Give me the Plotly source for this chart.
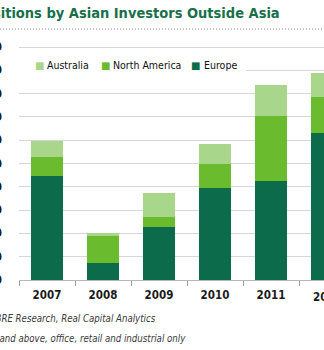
import plotly.graph_objects as go

# ---- data ----
years = ["2007", "2008", "2009", "2010", "2011", "2012"]
europe = [44.7, 7.4, 22.9, 39.3, 42.5, 63.2]
north_america = [7.9, 11.9, 4.3, 10.4, 27.9, 15.5]
australia = [7.1, 0.8, 10.3, 8.5, 13.3, 10.0]
y_ticks = [0, 10, 20, 30, 40, 50, 60, 70, 80, 90, 100]
series_names = ["Australia", "North America", "Europe"]

title_text = "Acquisitions by Asian Investors Outside Asia"
source_text = "Source: CBRE Research, Real Capital Analytics"
note_text = "Note: Deals of US$10 million and above, office, retail and industrial only"

# ---- layout geometry ----
W, H = 324, 350
L, R, T, B = 19, 0, 45, 70
PW, PH = W - L - R, H - T - B


def px(x):
    return (x - L) / PW


def py(y):
    return (H - B - y) / PH


COL_EU = "#0b6b4b"
COL_NA = "#6bbb2f"
COL_AU = "#a8d78c"
COND = "DejaVu Sans Condensed, DejaVu Sans, sans-serif"
TICKFONT = dict(family=COND, size=11.5, color="#1a1a1a", weight=700)

fig = go.Figure()
for name, vals, col in [("Europe", europe, COL_EU),
                        ("North America", north_america, COL_NA),
                        ("Australia", australia, COL_AU)]:
    fig.add_trace(go.Bar(x=years, y=vals, name=name, marker_color=col,
                         marker_line_width=0, showlegend=False,
                         hoverinfo="skip"))

fig.update_layout(
    width=W, height=H,
    margin=dict(l=L, r=R, t=T, b=B, pad=0, autoexpand=False),
    barmode="stack", bargap=0.446,
    plot_bgcolor="white", paper_bgcolor="white",
    showlegend=False,
)
fig.update_xaxes(type="category", range=[-0.5, -0.5 + PW / 56.0],
                 automargin=False,
                 showline=True, linecolor="#b8b8b8", linewidth=1,
                 ticks="outside", tickson="boundaries", ticklen=5,
                 tickcolor="#9a9a9a", tickwidth=1, showgrid=False,
                 tickfont=TICKFONT, ticklabelstandoff=4)
fig.update_yaxes(range=[0, PH / 2.33], automargin=False,
                 tickmode="array", tickvals=y_ticks,
                 showgrid=True, gridcolor="#d6d6d6", gridwidth=1,
                 zeroline=False, showline=False, ticks="",
                 tickfont=TICKFONT, ticklabelstandoff=16)

ann = []
ann.append(dict(text="<b>" + title_text + "</b>", xref="paper", yref="paper",
                x=px(281), y=py(13), xanchor="right", yanchor="middle",
                showarrow=False, borderpad=0,
                font=dict(family=COND, size=14.5, color="#18704a")))
ann.append(dict(text="2012", xref="paper", yref="paper",
                x=px(327), y=py(297), xanchor="center", yanchor="middle",
                showarrow=False, borderpad=0, font=TICKFONT))
FOOT = dict(family=COND, size=9.6, color="#3a3a3a", style="italic")
ann.append(dict(text=source_text, xref="paper", yref="paper",
                x=px(157), y=py(318), xanchor="right", yanchor="middle",
                showarrow=False, borderpad=0, font=FOOT))
ann.append(dict(text=note_text, xref="paper", yref="paper",
                x=px(187), y=py(338), xanchor="right", yanchor="middle",
                showarrow=False, borderpad=0, font=FOOT))

# legend (squares + labels)
for name, col, sq_x, tx_x in [("Australia", COL_AU, 39.2, 45.7),
                              ("North America", COL_NA, 105.2, 111.7),
                              ("Europe", COL_EU, 195.8, 202.7)]:
    ann.append(dict(text="■", xref="paper", yref="paper",
                    x=px(sq_x), y=py(65), xanchor="center", yanchor="middle",
                    showarrow=False, borderpad=0,
                    font=dict(family="DejaVu Sans", size=10, color=col)))
    ann.append(dict(text=name, xref="paper", yref="paper",
                    x=px(tx_x), y=py(65), xanchor="left", yanchor="middle",
                    showarrow=False, borderpad=0,
                    font=dict(family=COND, size=10.5, color="#111111")))
fig.update_layout(annotations=ann)

fig.add_shape(type="rect", xref="paper", yref="paper",
              x0=0, x1=px(246), y0=py(77), y1=py(55),
              fillcolor="white", line_width=0, layer="above")
fig.add_shape(type="line", xref="paper", yref="paper",
              x0=-0.2, x1=1.2, y0=py(29), y1=py(29),
              line=dict(color="#8a8a8a", width=1, dash="1px,2px"))

fig.write_html("out.html")
